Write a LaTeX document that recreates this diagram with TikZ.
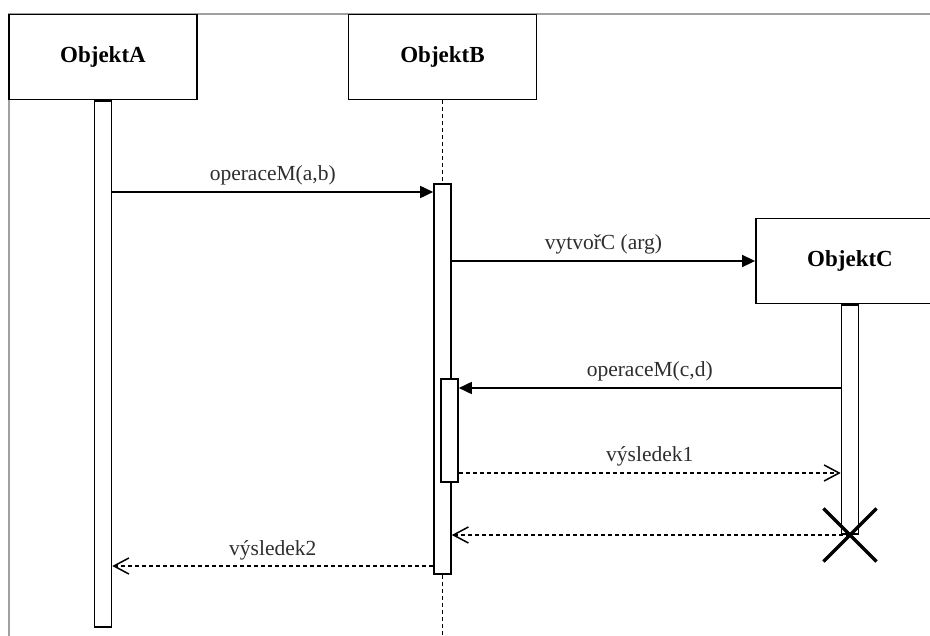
\documentclass[tikz,border=0pt]{standalone}
\usepackage{fontspec}
\setmainfont{Liberation Serif}
\usetikzlibrary{arrows.meta,shapes.misc}
\definecolor{lbltext}{HTML}{2E2E2E}
\definecolor{framegray}{HTML}{A0A0A0}
\begin{document}
\begin{tikzpicture}[x=1pt,y=-1pt,
  objbox/.style={draw, line width=1.8pt, fill=white, minimum width=188pt,
    minimum height=85pt, inner sep=0pt, font=\fontsize{23}{26}\selectfont\bfseries},
  actbar/.style={draw, line width=1.6pt, fill=white, minimum width=17pt, inner sep=0pt},
  call/.style={line width=1.6pt, -{Triangle[length=13pt,width=12pt]}},
  reply/.style={line width=1.5pt, dash pattern=on 4pt off 3pt,
    -{Straight Barb[length=15pt,width=16pt,line width=1.5pt]}},
  msglabel/.style={font=\fontsize{21.5}{24}\selectfont, text=lbltext,
    anchor=base, yshift=11pt, inner sep=0pt},
  lifeline/.style={line width=1.6pt, dash pattern=on 4pt off 3pt},
  destroy/.style={cross out, draw, line width=3.2pt, minimum size=50pt, inner sep=0pt},
]
\useasboundingbox (0,0) rectangle (930,636);

% outer frame of the sheet
\coordinate (frameBL) at (9,645);
\coordinate (frameTL) at (9,14);
\coordinate (frameTR) at (940,14);
\draw[framegray, line width=1.2pt] (frameBL) -- (frameTL) -- (frameTR);

% objects
\node[objbox] (objA) at (103,57) {ObjektA};
\node[objbox] (objB) at (442.5,57) {ObjektB};
\node[objbox] (objC) at (850,261) {ObjektC};

% lifeline of B
\node[actbar, minimum height=390pt] (barB) at (442.5,379) {};
\coordinate (bEnd) at (442.5,640);
\draw[lifeline] (objB.south) -- (barB.north);
\draw[lifeline] (barB.south) -- (bEnd);

% activation bars
\node[actbar, anchor=north, minimum height=526pt] (barA) at (objA.south) {};
\node[actbar, minimum height=103pt] (barB2) at (449.5,430.5) {};
\node[actbar, anchor=north, minimum height=229pt] (barC) at (objC.south) {};

% message heights
\coordinate (y1) at (0,192);
\coordinate (y2) at (0,261);
\coordinate (y3) at (0,388);
\coordinate (y4) at (0,473);
\coordinate (y6) at (0,566);

% messages
\draw[call] (barA.east |- y1) -- node[msglabel] {operaceM(a,b)} (barB.west |- y1);
\draw[call] (barB.east |- y2) -- node[msglabel] {vytvořC (arg)} (objC.west |- y2);
\draw[call] (barC.west |- y3) -- node[msglabel] {operaceM(c,d)} (barB2.east |- y3);
\draw[reply] (barB2.east |- y4) -- node[msglabel] {výsledek1} (barC.west |- y4);
\draw[reply] (barC.south) -- (barB.east |- barC.south);
\draw[reply] (barB.west |- y6) -- node[msglabel] {výsledek2} (barA.east |- y6);

% destruction of C
\node[destroy] (xC) at (barC.south) {};
\end{tikzpicture}
\end{document}
